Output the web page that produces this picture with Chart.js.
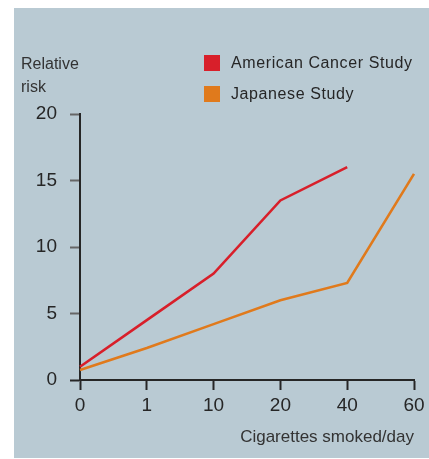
<!DOCTYPE html>
<html lang="en">
<head>
    <meta charset="UTF-8">
    <title>Relative risk by cigarettes smoked</title>
    <script src="https://cdn.jsdelivr.net/npm/chart.js"></script>
    <style>
        body, html {
            margin: 0;
            padding: 0;
            width: 429px;
            height: 459px;
            background: #ffffff;
            overflow: hidden;
        }
        #panel {
            position: absolute;
            left: 14px;
            top: 8px;
            width: 415px;
            height: 450px;
            background: #b9cad3;
        }
        #wrap {
            position: absolute;
            left: 0;
            top: 0;
            width: 429px;
            height: 459px;
        }
    </style>
</head>
<body>
    <div id="panel"></div>
    <div id="wrap"><canvas id="riskChart"></canvas></div>
    <script>
        // cigarettes smoked per day (category axis)
        const cigarettes = ['0', '1', '10', '20', '40', '60'];
        const americanRisk = [1.0, 4.5, 8.0, 13.5, 16.0, null];
        const japaneseRisk = [0.75, 2.4, 4.2, 6.0, 7.3, 15.5];
        const seriesNames = ['American Cancer Study', 'Japanese Study'];
        const yTitleLines = ['Relative', 'risk'];
        const xTitle = 'Cigarettes smoked/day';

        const red = '#d81f2a';
        const orange = '#e07a1c';
        const ink = '#262626';
        const fontFamily = "'Liberation Sans', Arial, sans-serif";

        // legend + y title drawn by hand so they sit where the original has them
        const annotations = {
            id: 'annotations',
            afterDraw(chart) {
                const ctx = chart.ctx;
                ctx.save();
                ctx.fillStyle = '#333';
                ctx.font = '16px ' + fontFamily;
                ctx.textBaseline = 'alphabetic';
                ctx.textAlign = 'left';
                ctx.fillText(yTitleLines[0], 21, 69);
                ctx.fillText(yTitleLines[1], 21, 92);

                ctx.letterSpacing = '0.6px';
                chart.data.datasets.forEach((ds, i) => {
                    const y = 55 + i * 31;
                    ctx.fillStyle = ds.borderColor;
                    ctx.fillRect(204, y, 16, 16);
                    ctx.fillStyle = ink;
                    ctx.textBaseline = 'middle';
                    ctx.fillText(ds.label, 231, y + 8.5);
                });
                ctx.restore();
            }
        };

        const chart = new Chart(document.getElementById('riskChart'), {
            type: 'line',
            data: {
                labels: cigarettes,
                datasets: [{
                    label: seriesNames[0],
                    data: americanRisk,
                    borderColor: red,
                    borderWidth: 2.6,
                    pointRadius: 0,
                    tension: 0
                }, {
                    label: seriesNames[1],
                    data: japaneseRisk,
                    borderColor: orange,
                    borderWidth: 2.6,
                    pointRadius: 0,
                    tension: 0
                }]
            },
            options: {
                responsive: true,
                maintainAspectRatio: false,
                animation: false,
                events: [],
                layout: {
                    padding: { left: 0, right: 15, top: 114, bottom: 0 }
                },
                plugins: {
                    legend: { display: false },
                    tooltip: { enabled: false }
                },
                scales: {
                    x: {
                        offset: false,
                        afterFit: (scale) => { scale.height = 79; },
                        border: { color: ink, width: 2 },
                        grid: {
                            drawOnChartArea: false,
                            tickLength: 10,
                            tickWidth: 2,
                            tickColor: ink
                        },
                        ticks: {
                            color: ink,
                            padding: 4,
                            maxRotation: 0,
                            font: { family: fontFamily, size: 19 }
                        },
                        title: {
                            display: true,
                            text: xTitle,
                            align: 'end',
                            color: '#333',
                            padding: { top: 3, bottom: 11 },
                            font: { family: fontFamily, size: 17 }
                        }
                    },
                    y: {
                        min: 0,
                        max: 20,
                        afterFit: (scale) => { scale.width = 80; },
                        border: { color: ink, width: 2 },
                        grid: {
                            drawOnChartArea: false,
                            tickLength: 10,
                            tickWidth: 2,
                            tickColor: (c) => c.tick && c.tick.value === 0 ? ink : '#666'
                        },
                        ticks: {
                            stepSize: 5,
                            color: ink,
                            padding: 13,
                            font: { family: fontFamily, size: 19 }
                        }
                    }
                }
            },
            plugins: [annotations]
        });
    </script>
</body>
</html>
